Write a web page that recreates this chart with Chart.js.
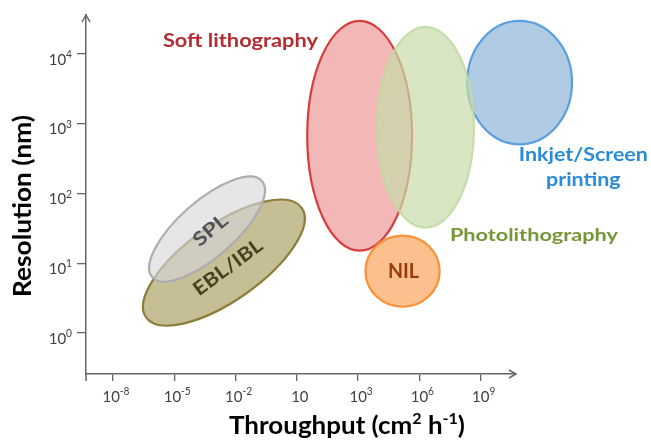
<!DOCTYPE html>
<html>
<head>
<meta charset="utf-8">
<script src="https://cdn.jsdelivr.net/npm/chart.js@4.4.1/dist/chart.umd.min.js"></script>
<style>
  body { margin: 0; background: #fff; }
  canvas { display: block; }
</style>
</head>
<body>
<canvas id="chart" width="651" height="440"></canvas>
<script>
// Eje X: posiciones de las marcas (0..6) con sus etiquetas, tal como en la figura
const xTickLabels = ['10^-8', '10^-5', '10^-2', '10', '10^3', '10^6', '10^9'];
// Eje Y: resolución en nm (escala logarítmica)
const yTickValues = [1, 10, 100, 1000, 10000];

// Regiones de cada técnica (orden = orden de dibujo)
const techNames = ['Soft lithography', 'Inkjet/Screen printing', 'Photolithography', 'NIL', 'EBL/IBL', 'SPL'];
// throughput en posiciones del eje X, resolución en nm
const throughputMin = [3.17, 5.78, 4.31, 4.12, 0.54, 0.64];
const throughputMax = [4.88, 7.49, 5.89, 5.33, 3.08, 2.43];
const resolutionMin = [15.1, 507, 32.4, 2.37, 1.67, 6.3];
const resolutionMax = [29850, 29850, 24450, 24.9, 62, 151];
// regiones inclinadas: min/max son los extremos del eje mayor
const tilted = [false, false, false, false, true, true];

// Posición de las etiquetas de texto (mismas unidades)
const labelX = [2.08, 7.675, 6.868, 4.74, 1.868, 1.582];
const labelY = [15850, 364, 26.1, 7.72, 8.9, 30.3];

const fontFamily = 'Lato, "Open Sans", sans-serif';
const axisColor = '#666666';

const regionStyle = {
    'Soft lithography':       { fill: 'rgb(244,183,183)', stroke: 'rgb(214,62,62)', text: 'rgb(180,45,50)', cap: 14, width: 155 },
    'Inkjet/Screen printing': { fill: 'rgb(178,203,229)', stroke: 'rgb(90,160,225)', text: 'rgb(40,140,215)', cap: 13.5, width: 129, lines: ['Inkjet/Screen', 'printing'] },
    'Photolithography':       { fill: 'rgba(199,219,171,0.7)', stroke: 'rgba(190,218,160,0.85)', text: 'rgb(118,150,55)', cap: 13, width: 168 },
    'NIL':                    { fill: 'rgb(252,192,142)', stroke: 'rgb(250,145,55)', text: 'rgb(150,60,12)', cap: 15, width: 31 },
    'EBL/IBL':                { fill: 'rgb(198,190,148)', stroke: 'rgb(140,126,58)', text: 'rgb(72,64,30)', cap: 14, width: 81, rotate: -36.5, thickness: 0.4 },
    'SPL':                    { fill: 'rgba(214,215,219,0.62)', stroke: 'rgb(172,172,177)', text: 'rgb(80,80,88)', cap: 14, width: 39, rotate: -40, thickness: 0.384 }
};

// texto con superíndices: '10^-8' -> [{text:'10'}, {text:'-8', sup:true}]
function splitSup(str) {
    const i = str.indexOf('^');
    if (i < 0) return [{ text: str }];
    return [{ text: str.slice(0, i) }, { text: str.slice(i + 1), sup: true }];
}

function sizeForCap(ctx, cap, weight) {
    ctx.font = `${weight} 100px ${fontFamily}`;
    return cap * 100 / ctx.measureText('H').actualBoundingBoxAscent;
}

function partsWidth(ctx, parts, size, weight, supRatio) {
    let w = 0;
    parts.forEach(p => {
        ctx.font = `${weight} ${p.sup ? size * supRatio : size}px ${fontFamily}`;
        w += ctx.measureText(p.text).width;
    });
    return w;
}

// dibuja texto centrado verticalmente en la altura de mayúsculas
function drawRich(ctx, parts, x, y, o) {
    const supRatio = o.supRatio || 0.62;
    const size = sizeForCap(ctx, o.cap, o.weight);
    const natural = partsWidth(ctx, parts, size, o.weight, supRatio);
    const squeeze = o.width ? o.width / natural : (o.squeeze || 1);
    ctx.save();
    ctx.translate(x, y);
    ctx.rotate((o.rotate || 0) * Math.PI / 180);
    ctx.scale(squeeze, 1);
    let cx = o.align === 'right' ? -natural : -natural / 2;
    const base = o.cap / 2;
    ctx.fillStyle = o.color;
    ctx.textAlign = 'left';
    ctx.textBaseline = 'alphabetic';
    parts.forEach(p => {
        ctx.font = `${o.weight} ${p.sup ? size * supRatio : size}px ${fontFamily}`;
        ctx.fillText(p.text, cx, p.sup ? base - size * 0.42 : base);
        cx += ctx.measureText(p.text).width;
    });
    ctx.restore();
    return squeeze;
}

const regionsPlugin = {
    id: 'regions',
    afterDatasetsDraw(chart) {
        const ctx = chart.ctx;
        const xs = chart.scales.x, ys = chart.scales.y;

        techNames.forEach((name, i) => {
            const st = regionStyle[name];
            const x1 = xs.getPixelForValue(throughputMin[i]), x2 = xs.getPixelForValue(throughputMax[i]);
            const y1 = ys.getPixelForValue(resolutionMin[i]), y2 = ys.getPixelForValue(resolutionMax[i]);
            const cx = (x1 + x2) / 2, cy = (y1 + y2) / 2;
            ctx.save();
            ctx.beginPath();
            if (tilted[i]) {
                const a = Math.hypot(x2 - x1, y2 - y1) / 2;
                ctx.ellipse(cx, cy, a, a * st.thickness, Math.atan2(y2 - y1, x2 - x1), 0, Math.PI * 2);
            } else {
                ctx.ellipse(cx, cy, Math.abs(x2 - x1) / 2, Math.abs(y2 - y1) / 2, 0, 0, Math.PI * 2);
            }
            ctx.fillStyle = st.fill;
            ctx.fill();
            ctx.lineWidth = 2.2;
            ctx.strokeStyle = st.stroke;
            ctx.stroke();
            ctx.restore();
        });

        techNames.forEach((name, i) => {
            const st = regionStyle[name];
            const px = xs.getPixelForValue(labelX[i]);
            const py = ys.getPixelForValue(labelY[i]);
            const lines = st.lines || [name];
            let squeeze = null;
            lines.forEach((line, k) => {
                const opts = { cap: st.cap, weight: 'bold', color: st.text, rotate: st.rotate };
                if (squeeze === null) opts.width = st.width; else opts.squeeze = squeeze;
                const s = drawRich(ctx, [{ text: line }], px, py + k * 24.5, opts);
                if (squeeze === null) squeeze = s;
            });
        });
    },
    afterDraw(chart) {
        const ctx = chart.ctx;
        const { left, right, top, bottom } = chart.chartArea;
        const xs = chart.scales.x, ys = chart.scales.y;

        // flechas y prolongación del eje Y
        ctx.save();
        ctx.strokeStyle = axisColor;
        ctx.lineWidth = 1.5;
        ctx.beginPath();
        ctx.moveTo(left, bottom);
        ctx.lineTo(left, bottom + 7);
        ctx.moveTo(left - 4, top + 7);
        ctx.lineTo(left, top);
        ctx.lineTo(left + 4, top + 7);
        ctx.moveTo(right - 6, bottom - 4);
        ctx.lineTo(right + 1, bottom);
        ctx.lineTo(right - 6, bottom + 4);
        ctx.stroke();
        ctx.restore();

        // etiquetas de las marcas
        const tickFont = { cap: 11.5, weight: 'normal', color: '#404040', squeeze: 0.95, supRatio: 0.68 };
        xs.ticks.forEach((t, i) => {
            const px = xs.getPixelForValue(t.value);
            drawRich(ctx, splitSup(xTickLabels[i]), px + 3, bottom + 22, tickFont);
        });
        ys.ticks.forEach(t => {
            const py = ys.getPixelForValue(t.value);
            drawRich(ctx, splitSup('10^' + Math.round(Math.log10(t.value))), left - 14, py + 5,
                Object.assign({ align: 'right' }, tickFont));
        });

        // títulos de los ejes
        drawRich(ctx, [{ text: 'Throughput (cm' }, { text: '2', sup: true }, { text: ' h' }, { text: '-1', sup: true }, { text: ')' }],
            347, 425, { cap: 18, weight: 'bold', color: '#000', width: 236 });
        drawRich(ctx, [{ text: 'Resolution (nm)' }], 22, 206,
            { cap: 18, weight: 'bold', color: '#000', width: 182, rotate: -90 });
    }
};

const chart = new Chart(document.getElementById('chart').getContext('2d'), {
    type: 'scatter',
    data: { datasets: [{ data: [], pointRadius: 0 }] },
    options: {
        responsive: false,
        animation: false,
        devicePixelRatio: 1,
        layout: { padding: { left: 0, right: 136, top: 15, bottom: 0 } },
        plugins: { legend: { display: false }, tooltip: { enabled: false } },
        scales: {
            x: {
                type: 'linear',
                min: -0.44,
                max: 6.56,
                afterBuildTicks: scale => { scale.ticks = xTickLabels.map((_, i) => ({ value: i })); },
                afterFit: scale => { scale.height = 66; },
                ticks: { display: false },
                grid: { drawOnChartArea: false, drawTicks: true, tickLength: 7, color: axisColor, lineWidth: 1.3 },
                border: { display: true, color: axisColor, width: 1.5 }
            },
            y: {
                type: 'logarithmic',
                min: 0.257,
                max: 36300,
                afterBuildTicks: scale => { scale.ticks = yTickValues.map(v => ({ value: v })); },
                afterFit: scale => { scale.width = 86; },
                ticks: { display: false },
                grid: { drawOnChartArea: false, drawTicks: true, tickLength: 9, color: axisColor, lineWidth: 1.3 },
                border: { display: true, color: axisColor, width: 1.5 }
            }
        }
    },
    plugins: [regionsPlugin]
});
</script>
</body>
</html>
